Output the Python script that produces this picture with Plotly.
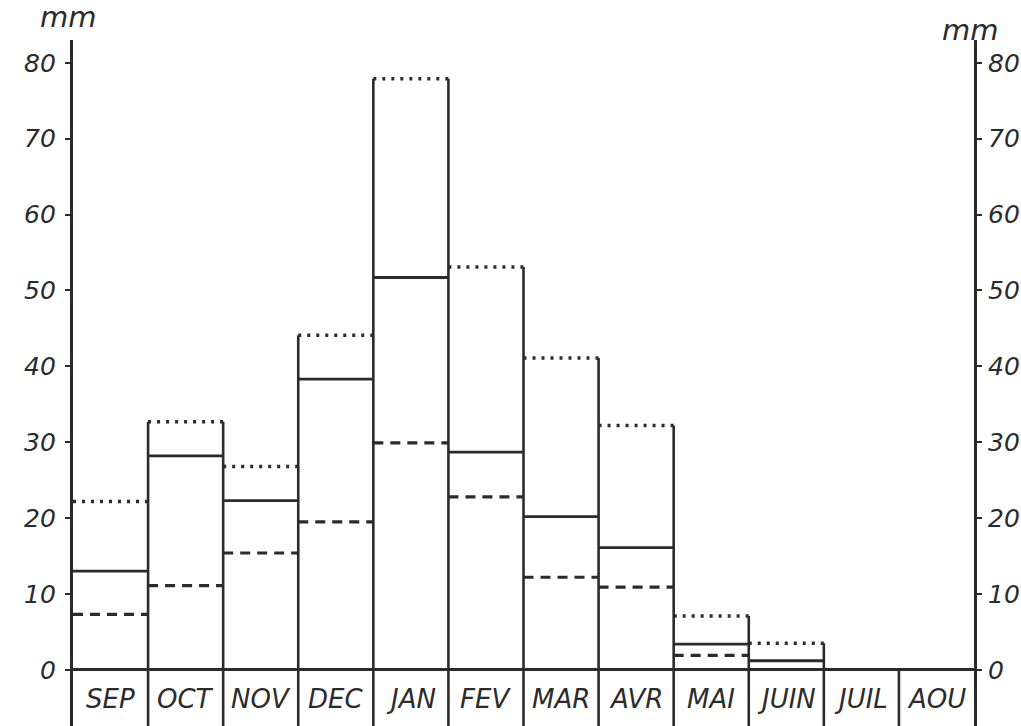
import plotly.graph_objects as go

# Monthly rainfall (mm), September to August
months = ["SEP", "OCT", "NOV", "DEC", "JAN", "FEV", "MAR", "AVR", "MAI", "JUIN", "JUIL", "AOU"]
rain_high = [22.2, 32.7, 26.8, 44.1, 77.9, 53.1, 41.1, 32.2, 7.1, 3.5, 0, 0]     # dotted tops
rain_mean = [13.0, 28.2, 22.3, 38.3, 51.7, 28.7, 20.2, 16.1, 3.4, 1.2, 0, 0]    # solid lines
rain_low = [7.3, 11.1, 15.4, 19.5, 29.9, 22.8, 12.2, 10.9, 1.9, 0, 0, 0]        # dashed lines

tick_vals = [0, 10, 20, 30, 40, 50, 60, 70, 80]
tick_text = ["0", "10", "20", "30", "40", "50", "60", "70", "80"]

INK = "#2b2b2b"
FONT = "DejaVu Sans"
Y_MIN, Y_MAX = -7.4, 83.0


def level_segments(values):
    xs, ys = [], []
    for i, v in enumerate(values):
        if v and v > 0:
            xs += [i, i + 1, None]
            ys += [v, v, None]
    return xs, ys


fig = go.Figure()

# Column separators: run through the label strip and up to the taller neighbour
bx, by = [], []
for i in range(1, len(months)):
    h = max(rain_high[i - 1], rain_high[i])
    bx += [i, i, None]
    by += [Y_MIN, h, None]
fig.add_trace(go.Scatter(x=bx, y=by, mode="lines", line=dict(color=INK, width=2.6),
                         hoverinfo="skip", showlegend=False))

for vals, dash, width in [(rain_high, "3px,6px", 3.5), (rain_mean, "solid", 2.8), (rain_low, "10px,7px", 3.2)]:
    sx, sy = level_segments(vals)
    fig.add_trace(go.Scatter(x=sx, y=sy, mode="lines", line=dict(color=INK, width=width, dash=dash),
                             hoverinfo="skip", showlegend=False))

# Right-hand axis carrier
fig.add_trace(go.Scatter(x=[None], y=[None], yaxis="y2", showlegend=False, hoverinfo="skip"))

# Month names in the strip below zero
for i, m in enumerate(months):
    fig.add_annotation(x=i + 0.5, y=-3.9, xref="x", yref="y", text=m, showarrow=False,
                       font=dict(family=FONT, size=26, color=INK, style="italic"),
                       xanchor="center", yanchor="middle")

# Unit labels
fig.add_annotation(x=-0.0055, y=1.034, xref="paper", yref="paper", text="mm", showarrow=False,
                   font=dict(family=FONT, size=29, color=INK, style="italic"),
                   xanchor="center", yanchor="middle")
fig.add_annotation(x=0.9956, y=1.015, xref="paper", yref="paper", text="mm", showarrow=False,
                   font=dict(family=FONT, size=29, color=INK, style="italic"),
                   xanchor="center", yanchor="middle")

axis_common = dict(
    range=[Y_MIN, Y_MAX], tickmode="array", tickvals=tick_vals, ticktext=tick_text,
    ticks="outside", ticklen=5, tickwidth=2, tickcolor=INK,
    showline=True, linewidth=3.2, linecolor=INK, showgrid=False,
    tickfont=dict(family=FONT, size=25, color=INK, style="italic"),
)

fig.update_layout(
    width=1021, height=726,
    margin=dict(l=73, r=47, t=40, b=0),
    paper_bgcolor="white", plot_bgcolor="white",
    xaxis=dict(range=[0, 12], visible=False, fixedrange=True),
    yaxis=dict(**axis_common, zeroline=True, zerolinecolor=INK, zerolinewidth=2.6,
               ticklabelstandoff=4),
    yaxis2=dict(**axis_common, overlaying="y", side="right", zeroline=False,
                ticklabelstandoff=1),
)

fig.write_html("out.html")
